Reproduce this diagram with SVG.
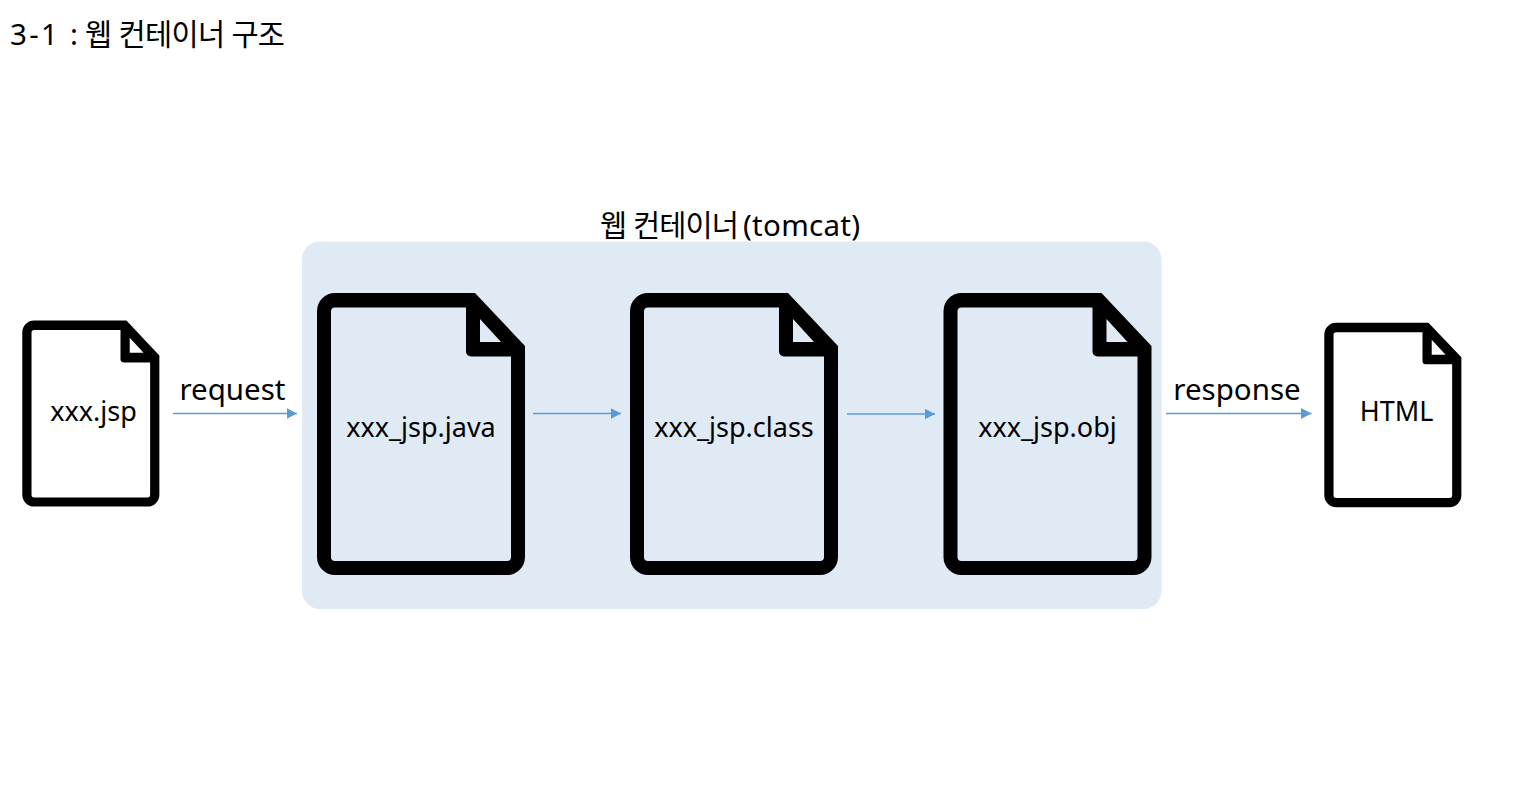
<svg xmlns="http://www.w3.org/2000/svg" width="1518" height="798" viewBox="0 0 1518 798">
<style>
text{font-family:"Noto Sans","Noto Sans CJK KR",sans-serif;fill:#000}
.t{font-size:29.500px}
.l{font-size:27px;text-anchor:middle}
.c{stroke:#5b9bd5;stroke-width:1.500;fill:none;marker-end:url(#a)}
.d{fill:#000;fill-rule:evenodd}
</style>
<defs>
<marker id="a" markerUnits="userSpaceOnUse" markerWidth="13" markerHeight="12" refX="10.500" refY="5.500" orient="auto"><path d="M0 0L10.500 5.500L0 11Z" fill="#5b9bd5"/></marker>
<path id="doc" d="M18 0H158L208 53V264A18 18 0 0 1 190 282H18A18 18 0 0 1 0 264V18A18 18 0 0 1 18 0ZM18 14.500A4 4 0 0 0 14 18.500V264A4 4 0 0 0 18 268H190A4 4 0 0 0 194 264V63.500H154A5 5 0 0 1 149 58.500V14.500ZM163 26V49H184Z"/>
</defs>
<text id="title" class="t" y="45"><tspan x="10" textLength="68">3-1 :</tspan><tspan x="85" textLength="200">웹 컨테이너 구조</tspan></text>
<g id="container">
<rect x="302" y="241.500" width="859.500" height="367.500" rx="18" fill="#e0eaf5"/>
<text class="t" y="236"><tspan x="600" textLength="139">웹 컨테이너</tspan><tspan x="743" textLength="117">(tomcat)</tspan></text>
</g>
<g id="connectors">
<line class="c" x1="173" y1="413.500" x2="297" y2="413.500"/>
<line class="c" x1="533" y1="413.500" x2="621" y2="413.500"/>
<line class="c" x1="847" y1="414" x2="935" y2="414"/>
<line class="c" x1="1166" y1="413.500" x2="1311.500" y2="413.500"/>
</g>
<g id="label-request"><text class="t" x="232.500" y="400" text-anchor="middle">request</text></g>
<g id="label-response"><text class="t" x="1237" y="400" text-anchor="middle">response</text></g>
<g id="node-jsp"><use href="#doc" class="d" transform="translate(22.300 320.500) scale(0.659 0.66)"/><text class="l" x="93.500" y="420.500">xxx.jsp</text></g>
<g id="node-java"><use href="#doc" class="d" transform="translate(317 293)"/><text class="l" x="421" y="436.500">xxx_jsp.java</text></g>
<g id="node-class"><use href="#doc" class="d" transform="translate(630 293)"/><text class="l" x="734" y="436.500">xxx_jsp.class</text></g>
<g id="node-obj"><use href="#doc" class="d" transform="translate(943.500 293)"/><text class="l" x="1047.500" y="436.500">xxx_jsp.obj</text></g>
<g id="node-html"><use href="#doc" class="d" transform="translate(1324.300 322.700) scale(0.659 0.654)"/><text class="l" x="1396.500" y="421">HTML</text></g>
</svg>
